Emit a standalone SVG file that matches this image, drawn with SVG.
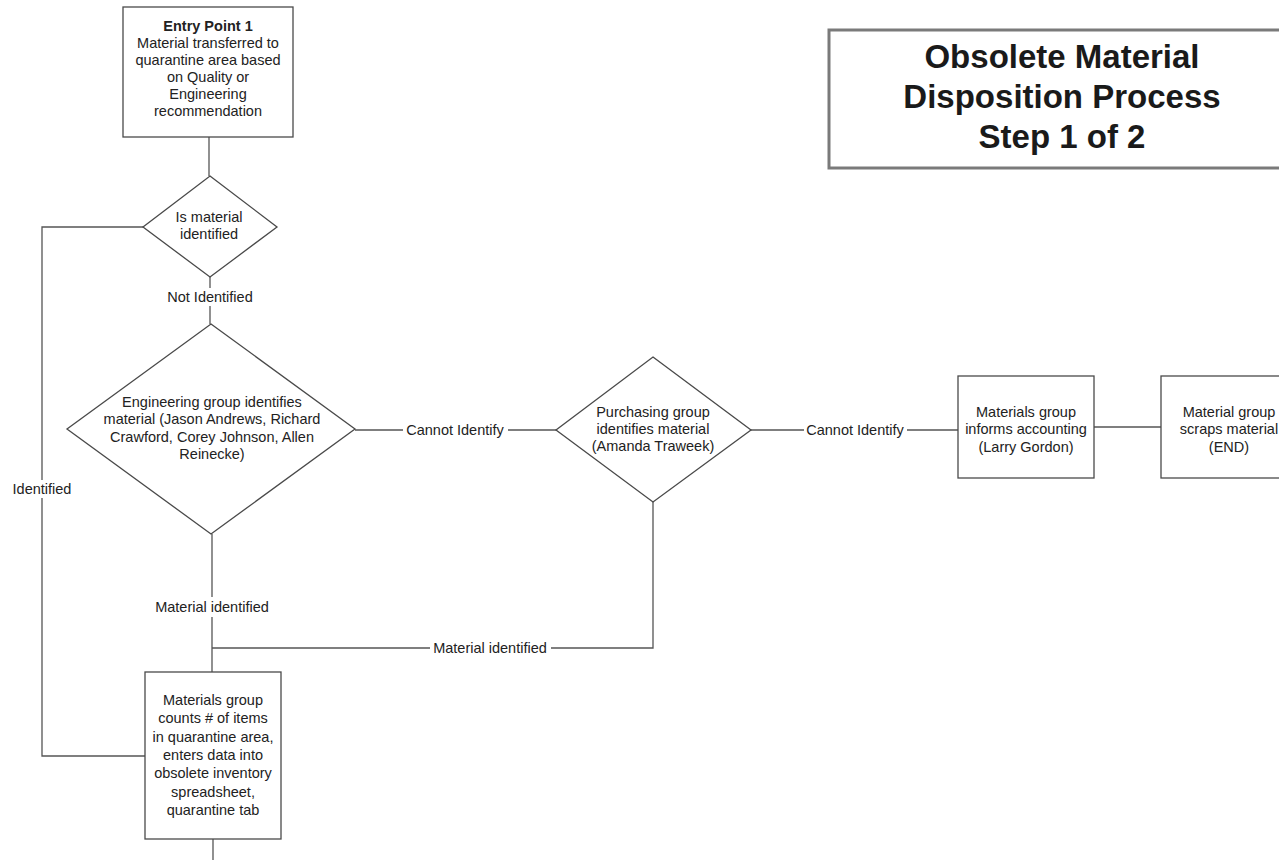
<svg xmlns="http://www.w3.org/2000/svg" width="1279" height="860" viewBox="0 0 1279 860">
  <style>
    .shape { fill: #ffffff; stroke: #4a4a4a; stroke-width: 1.3; }
    .wire { fill: none; stroke: #555555; stroke-width: 1.3; }
    .txt { font-family: "Liberation Sans", Arial, sans-serif; font-size: 14.5px; fill: #222222; text-anchor: middle; }
    .bold { font-weight: bold; }
    .title { font-family: "Liberation Sans", Arial, sans-serif; font-size: 33px; font-weight: bold; fill: #1a1a1a; text-anchor: middle; }
    .frame { fill: #ffffff; stroke: #7a7a7a; stroke-width: 3; }
  </style>
  <rect width="1279" height="860" fill="#ffffff"/>

  <!-- connectors -->
  <g id="connectors">
    <line class="wire" x1="209" y1="137" x2="209" y2="176"/>
    <line class="wire" x1="210" y1="277" x2="210" y2="288"/>
    <line class="wire" x1="210" y1="306" x2="210" y2="324"/>
    <polyline class="wire" points="143,227 42,227 42,480"/>
    <polyline class="wire" points="42,498 42,756 145,756"/>
    <line class="wire" x1="355" y1="430" x2="403" y2="430"/>
    <line class="wire" x1="508" y1="430" x2="556" y2="430"/>
    <line class="wire" x1="751" y1="430" x2="804" y2="430"/>
    <line class="wire" x1="907" y1="430" x2="958" y2="430"/>
    <line class="wire" x1="1094" y1="427" x2="1161" y2="427"/>
    <line class="wire" x1="212" y1="534" x2="212" y2="597"/>
    <line class="wire" x1="212" y1="617" x2="212" y2="672"/>
    <line class="wire" x1="212" y1="648" x2="430" y2="648"/>
    <polyline class="wire" points="551,648 653,648 653,502"/>
    <line class="wire" x1="213" y1="839" x2="213" y2="860"/>
    <text class="txt" x="210" y="302">Not Identified</text>
    <text class="txt" x="42" y="494">Identified</text>
    <text class="txt" x="455" y="435">Cannot Identify</text>
    <text class="txt" x="855" y="435">Cannot Identify</text>
    <text class="txt" x="212" y="612">Material identified</text>
    <text class="txt" x="490" y="653">Material identified</text>
  </g>

  <!-- title block -->
  <g id="title">
    <rect class="frame" x="829" y="30" width="468" height="138"/>
    <text class="title" x="1062" y="68">Obsolete Material</text>
    <text class="title" x="1062" y="108">Disposition Process</text>
    <text class="title" x="1062" y="148">Step 1 of 2</text>
  </g>

  <!-- entry point -->
  <g id="entry-point">
    <rect class="shape" x="123" y="7" width="170" height="130"/>
    <text class="txt bold" x="208" y="31">Entry Point 1</text>
    <text class="txt" x="208" y="48">Material transferred to</text>
    <text class="txt" x="208" y="65">quarantine area based</text>
    <text class="txt" x="208" y="82">on Quality or</text>
    <text class="txt" x="208" y="99">Engineering</text>
    <text class="txt" x="208" y="116">recommendation</text>
  </g>

  <!-- decision: is material identified -->
  <g id="is-identified">
    <polygon class="shape" points="210,176 277,227 210,277 143,227"/>
    <text class="txt" x="209" y="222">Is material</text>
    <text class="txt" x="209" y="239">identified</text>
  </g>

  <!-- decision: engineering group -->
  <g id="engineering-check">
    <polygon class="shape" points="211,324 355,429 211,534 67,429"/>
    <text class="txt" x="212" y="407">Engineering group identifies</text>
    <text class="txt" x="212" y="424">material (Jason Andrews, Richard</text>
    <text class="txt" x="212" y="442">Crawford, Corey Johnson, Allen</text>
    <text class="txt" x="212" y="459">Reinecke)</text>
  </g>

  <!-- decision: purchasing group -->
  <g id="purchasing-check">
    <polygon class="shape" points="653,357 751,430 653,502 556,430"/>
    <text class="txt" x="653" y="417">Purchasing group</text>
    <text class="txt" x="653" y="434">identifies material</text>
    <text class="txt" x="653" y="451">(Amanda Traweek)</text>
  </g>

  <!-- materials group informs accounting -->
  <g id="inform-accounting">
    <rect class="shape" x="958" y="376" width="136" height="102"/>
    <text class="txt" x="1026" y="417">Materials group</text>
    <text class="txt" x="1026" y="434">informs accounting</text>
    <text class="txt" x="1026" y="452">(Larry Gordon)</text>
  </g>

  <!-- scrap / end -->
  <g id="scrap-material">
    <rect class="shape" x="1161" y="376" width="136" height="102"/>
    <text class="txt" x="1229" y="417">Material group</text>
    <text class="txt" x="1229" y="434">scraps material</text>
    <text class="txt" x="1229" y="452">(END)</text>
  </g>

  <!-- count items -->
  <g id="count-items">
    <rect class="shape" x="145" y="672" width="136" height="167"/>
    <text class="txt" x="213" y="705">Materials group</text>
    <text class="txt" x="213" y="723">counts # of items</text>
    <text class="txt" x="213" y="742">in quarantine area,</text>
    <text class="txt" x="213" y="760">enters data into</text>
    <text class="txt" x="213" y="778">obsolete inventory</text>
    <text class="txt" x="213" y="797">spreadsheet,</text>
    <text class="txt" x="213" y="815">quarantine tab</text>
  </g>
</svg>
